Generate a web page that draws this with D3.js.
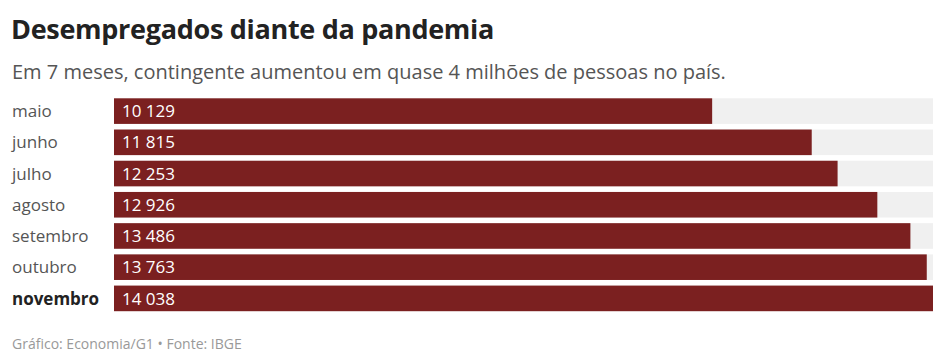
<!DOCTYPE html>
<html>
<head>
<meta charset="utf-8">
<script src="https://cdn.jsdelivr.net/npm/d3@7"></script>
<style>
  html, body { margin: 0; padding: 0; background: #ffffff; }
  svg { display: block; font-family: "Open Sans", sans-serif; }
</style>
</head>
<body>
<svg id="chart" width="933" height="354"></svg>
<script>
// Desempregados (mil pessoas), maio a novembro de 2020
const months = ["maio", "junho", "julho", "agosto", "setembro", "outubro", "novembro"];
const unemployed = [10129, 11815, 12253, 12926, 13486, 13763, 14038];
const valueLabels = ["10 129", "11 815", "12 253", "12 926", "13 486", "13 763", "14 038"];

const title = "Desempregados diante da pandemia";
const subtitle = "Em 7 meses, contingente aumentou em quase 4 milhões de pessoas no país.";
const source = "Gráfico: Economia/G1 • Fonte: IBGE";

const W = 933, H = 354;
const svg = d3.select("#chart");

const x = d3.scaleLinear().domain([0, 14038]).range([114, 943]);
const y = d3.scaleBand().domain(months).range([95.5, 314]).paddingInner(0.18).paddingOuter(0.09);

svg.append("text")
  .attr("x", 11).attr("y", 39)
  .attr("font-size", 27).attr("font-weight", 700)
  .attr("fill", "#222").attr("letter-spacing", -0.3)
  .text(title);

svg.append("text")
  .attr("x", 12).attr("y", 79)
  .attr("font-size", 20).attr("fill", "#555")
  .text(subtitle);

const rows = svg.append("g").selectAll("g")
  .data(months.map((m, i) => ({ m, v: unemployed[i], label: valueLabels[i], last: i === months.length - 1 })))
  .join("g");

// light track behind each bar
rows.append("rect")
  .attr("x", x(0)).attr("y", d => y(d.m))
  .attr("width", W - x(0)).attr("height", y.bandwidth())
  .attr("fill", "#f0f0f0");

rows.append("rect")
  .attr("x", x(0)).attr("y", d => y(d.m))
  .attr("width", d => x(d.v) - x(0)).attr("height", y.bandwidth())
  .attr("fill", "#7b2020");

rows.append("text")
  .attr("x", x(0) + 8).attr("y", d => y(d.m) + y.bandwidth() / 2)
  .attr("dy", "0.36em")
  .attr("font-size", 17).attr("fill", "#ffffff")
  .text(d => d.label);

rows.append("text")
  .attr("x", 12).attr("y", d => y(d.m) + y.bandwidth() / 2)
  .attr("dy", "0.36em")
  .attr("font-size", 17)
  .attr("font-weight", d => d.last ? 700 : 400)
  .attr("fill", d => d.last ? "#222" : "#555")
  .text(d => d.m);

svg.append("text")
  .attr("x", 12).attr("y", 349)
  .attr("font-size", 14).attr("fill", "#999")
  .text(source);
</script>
</body>
</html>
